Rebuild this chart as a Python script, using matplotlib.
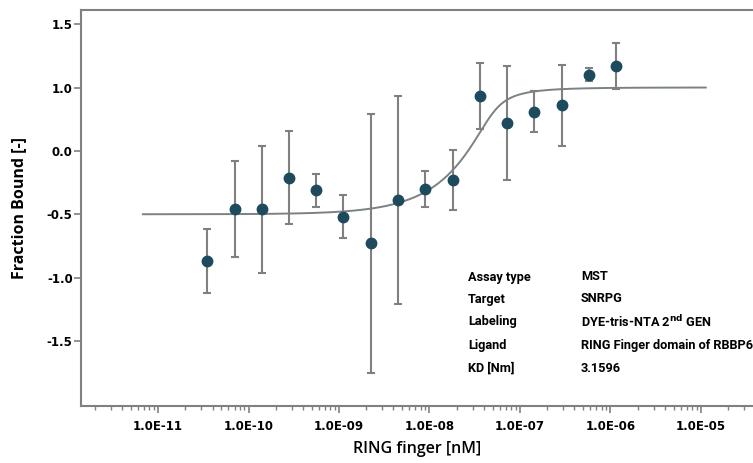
import matplotlib
matplotlib.use("Agg")
import matplotlib.pyplot as plt
import numpy as np
from matplotlib.ticker import FixedLocator, LogLocator, NullFormatter

# ligand concentrations (1:1 dilution series)
conc = [3.51e-11, 7.02e-11, 1.40e-10, 2.81e-10, 5.62e-10, 1.12e-9, 2.25e-9, 4.49e-9,
        8.98e-9, 1.80e-8, 3.59e-8, 7.19e-8, 1.44e-7, 2.88e-7, 5.75e-7, 1.15e-6]
fraction = [-0.37, 0.04, 0.04, 0.29, 0.19, -0.02, -0.23, 0.11,
            0.20, 0.27, 0.93, 0.72, 0.81, 0.86, 1.10, 1.17]
fraction_err = [0.25, 0.38, 0.50, 0.37, 0.13, 0.17, 1.02, 0.82,
                0.14, 0.24, 0.26, 0.45, 0.16, 0.32, 0.05, 0.18]

# fit (quadratic KD model) parameters
kd = 3.1596e-9
target_conc = 4.7e-8
fit_range = (6.8e-12, 1.13e-5)

ytick_pos = [1.5, 1.0, 0.5, 0.0, -0.5, -1.0]
ytick_labels = ["1.5", "1.0", "0.0", "-0.5", "-1.0", "-1.5"]
xtick_pos = [1e-11, 1e-10, 1e-9, 1e-8, 1e-7, 1e-6, 1e-5]
xtick_labels = ["1.0E-11", "1.0E-10", "1.0E-09", "1.0E-08", "1.0E-07", "1.0E-06", "1.0E-05"]

info_keys = ["Assay type", "Target", "Labeling", "Ligand", "KD [Nm]"]
info_vals = ["MST", "SNRPG", r"DYE-tris-NTA 2$^{\mathbf{nd}}$ GEN",
             "RING Finger domain of RBBP6", "3.1596"]

GREY = "#808080"
DOT = "#1e4a5d"


def quad_fit(lig):
    s = target_conc + lig + kd
    return (s - np.sqrt(s * s - 4 * target_conc * lig)) / (2 * target_conc)


fig = plt.figure(figsize=(7.53, 4.63), dpi=100, facecolor="white")
ax = fig.add_axes([0.1076, 0.123, 0.8924, 0.855])

xs = np.logspace(np.log10(fit_range[0]), np.log10(fit_range[1]), 400)
ax.plot(xs, quad_fit(xs), color="#7a8285", lw=1.4, zorder=2)
ax.errorbar(conc, fraction, yerr=fraction_err, fmt="o", color=DOT, ms=7.5,
            ecolor=GREY, elinewidth=1.5, capsize=3, capthick=1.5, zorder=3)

ax.set_xscale("log")
ax.set_xlim(10 ** -11.851, 10 ** -4.425)
ax.set_ylim(-1.513, 1.61)

ax.xaxis.set_major_locator(FixedLocator(xtick_pos))
ax.set_xticklabels(xtick_labels)
ax.xaxis.set_minor_locator(LogLocator(base=10, subs=np.arange(2, 10)))
ax.xaxis.set_minor_formatter(NullFormatter())
ax.yaxis.set_major_locator(FixedLocator(ytick_pos))
ax.set_yticklabels(ytick_labels)

ax.spines["right"].set_visible(False)
for side in ("left", "bottom", "top"):
    ax.spines[side].set_color(GREY)
    ax.spines[side].set_linewidth(1.5)

ax.tick_params(axis="both", which="major", direction="out", color=GREY, width=1.2,
               length=5, labelsize=8.5)
ax.tick_params(axis="x", pad=5)
ax.tick_params(axis="y", pad=1)
ax.tick_params(axis="x", which="minor", direction="out", color=GREY, width=1.0, length=3)
for lab in ax.get_xticklabels() + ax.get_yticklabels():
    lab.set_fontweight("bold")
    lab.set_family("DejaVu Sans")

ax.set_xlabel("RING finger [nM]", fontsize=11.5, family="Open Sans", fontweight="semibold",
              labelpad=6)
ax.set_ylabel("Fraction Bound [-]", fontsize=11.5, family="Open Sans", fontweight="bold",
              labelpad=14)

# info table in the lower right corner
row_y = [277, 299, 322, 345, 368]
for ky, key, val in zip(row_y, info_keys, info_vals):
    fig.text(468 / 753, 1 - ky / 463, key, fontsize=9.2, fontweight="bold",
             family=["Roboto", "DejaVu Sans"], va="center", ha="left")
    fig.text(581 / 753, 1 - ky / 463, val, fontsize=9.2, fontweight="bold",
             family=["Roboto", "DejaVu Sans"], va="center", ha="left")

fig.savefig("out.png", dpi=100, facecolor="white")
